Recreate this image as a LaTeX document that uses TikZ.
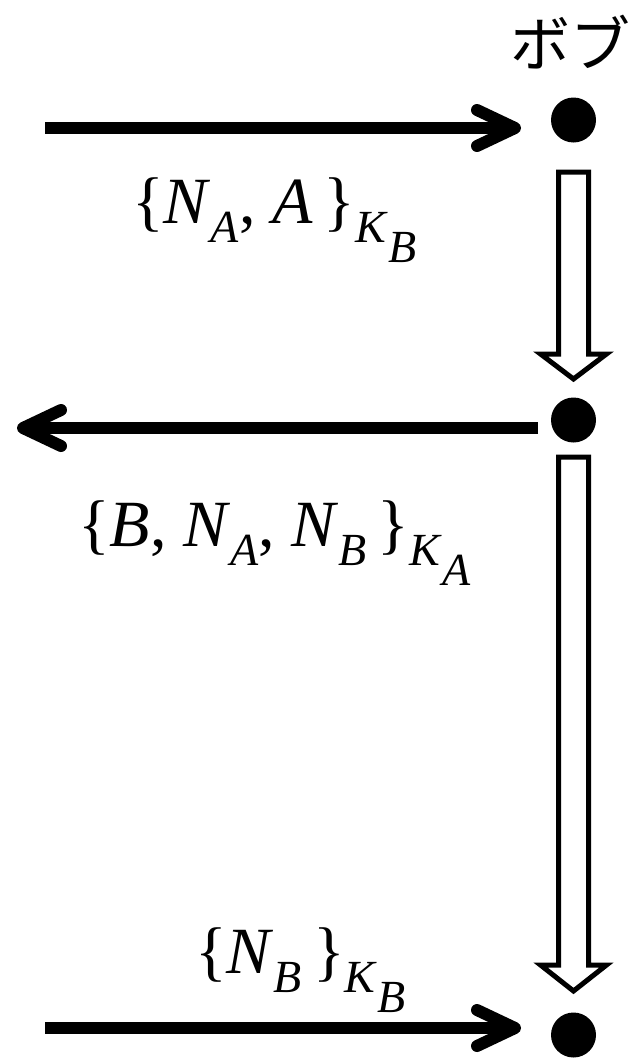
\documentclass[tikz,border=0pt]{standalone}
\usepackage{fontspec}
\setmainfont{Liberation Serif}
\newfontfamily\jpfont{Noto Sans CJK JP}
\usetikzlibrary{arrows.meta}
\newcommand\sbs[2][19]{\raisebox{-#1pt}{\fontsize{46}{46}\selectfont\textit{#2}}}
\tikzset{
  dot/.style={circle,fill=black,inner sep=0pt,minimum size=45pt},
  msg/.style={line width=12pt,-{Straight Barb[length=38pt,width=36pt,round]},shorten >=2pt},
  hollow/.style={draw=black,line width=5pt,fill=white,miter limit=10},
  lbl/.style={anchor=base west,inner sep=0pt,font=\fontsize{66}{70}\selectfont}
}
\begin{document}
\begin{tikzpicture}[x=1pt,y=-1pt]
\useasboundingbox (0,0) rectangle (635,1060);
\node[dot] (d1) at (573.5,120) {};
\node[dot] (d2) at (573.5,420) {};
\node[dot] (d3) at (573.5,1035) {};
\node[font=\jpfont\fontsize{60}{62}\selectfont,inner sep=0pt] (bob) at (570,42) {ボブ};
\coordinate (s1) at (45,128);
\coordinate (e1) at (523,128);
\coordinate (s2) at (538,428);
\coordinate (e2) at (15,428);
\coordinate (s3) at (45,1028);
\coordinate (e3) at (523,1028);
\draw[msg] (s1) -- (e1);
\draw[msg] (s2) -- (e2);
\draw[msg] (s3) -- (e3);
\draw[hollow] (558.5,172) -- (588.5,172) -- (588.5,354) -- (606.5,354) -- (573.5,379) -- (540.5,354) -- (558.5,354) -- cycle;
\draw[hollow] (558.5,457) -- (588.5,457) -- (588.5,965) -- (606.5,965) -- (573.5,991) -- (540.5,965) -- (558.5,965) -- cycle;
\node[lbl] (m1) at (132,223) {\{\textit{N}\sbs{A}, \textit{A}\,\}\sbs{K}\sbs[39]{B}};
\node[lbl] (m2) at (78,546) {\{\textit{B}, \textit{N}\sbs{A}, \textit{N}\sbs{B}\,\}\sbs{K}\sbs[39]{A}};
\node[lbl] (m3) at (195,973) {\{\textit{N}\sbs{B}\,\}\sbs{K}\sbs[39]{B}};
\end{tikzpicture}
\end{document}
